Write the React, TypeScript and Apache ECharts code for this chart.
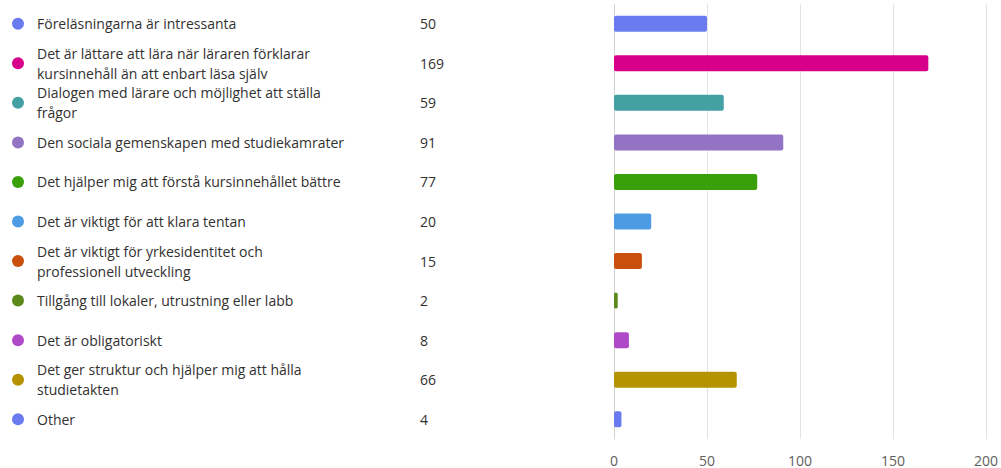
import React, { useEffect, useRef } from "react";
import * as echarts from "echarts";

const categories: string[] = [
  "Föreläsningarna är intressanta",
  "Det är lättare att lära när läraren förklarar\nkursinnehåll än att enbart läsa själv",
  "Dialogen med lärare och möjlighet att ställa\nfrågor",
  "Den sociala gemenskapen med studiekamrater",
  "Det hjälper mig att förstå kursinnehållet bättre",
  "Det är viktigt för att klara tentan",
  "Det är viktigt för yrkesidentitet och\nprofessionell utveckling",
  "Tillgång till lokaler, utrustning eller labb",
  "Det är obligatoriskt",
  "Det ger struktur och hjälper mig att hålla\nstudietakten",
  "Other",
];

const counts: number[] = [50, 169, 59, 91, 77, 20, 15, 2, 8, 66, 4];

const colors: string[] = [
  "#6a7bf0",
  "#d6008b",
  "#44a1a3",
  "#9374c4",
  "#3aa00a",
  "#4d9be3",
  "#c94f0f",
  "#5b8a1a",
  "#ae4ac7",
  "#b49200",
  "#6a7bf0",
];

const xTicks: number[] = [0, 50, 100, 150, 200];

const FONT = "'Open Sans', 'Noto Sans', sans-serif";

export default function App() {
  const ref = useRef<HTMLDivElement>(null);
  useEffect(() => {
    document.body.style.margin = "0";
    if (!ref.current) return;
    const chart = echarts.init(ref.current, undefined, { renderer: "svg" });
    const gridLeft = 614;
    const dotRich: Record<string, any> = {};
    colors.forEach((c, i) => {
      dotRich["d" + i] = {
        width: 12,
        height: 12,
        borderRadius: 6,
        backgroundColor: c,
      };
    });
    const baseY = {
      type: "category" as const,
      inverse: true,
      position: "left" as const,
      axisLine: { show: false },
      axisTick: { show: false },
      splitLine: { show: false },
    };
    chart.setOption({
      animation: false,
      textStyle: { fontFamily: FONT },
      grid: { left: gridLeft, right: 13, top: 4, bottom: 29, containLabel: false },
      xAxis: {
        type: "value",
        min: xTicks[0],
        max: xTicks[xTicks.length - 1],
        interval: xTicks[1] - xTicks[0],
        axisLine: { show: false },
        axisTick: { show: false },
        splitLine: { show: true, lineStyle: { color: "#e3e3e3", width: 1 } },
        axisLabel: { color: "#605e5c", fontSize: 14, margin: 14, fontFamily: FONT },
      },
      yAxis: [
        {
          ...baseY,
          data: categories,
          axisLine: { show: true, lineStyle: { color: "#d2d2d2", width: 1 } },
          axisLabel: { show: false },
        },
        {
          ...baseY,
          data: categories,
          axisLabel: {
            align: "left",
            margin: gridLeft - 12,
            formatter: (_v: string, i: number) => `{d${i}|}`,
            rich: dotRich,
          },
        },
        {
          ...baseY,
          data: categories,
          axisLabel: {
            align: "left",
            margin: gridLeft - 37,
            color: "#323130",
            fontSize: 14,
            lineHeight: 20,
            fontFamily: FONT,
          },
        },
        {
          ...baseY,
          data: counts.map(String),
          axisLabel: {
            align: "left",
            margin: gridLeft - 420,
            color: "#323130",
            fontSize: 14,
            fontFamily: FONT,
          },
        },
      ],
      series: [
        {
          type: "bar",
          yAxisIndex: 0,
          barWidth: 16,
          data: counts.map((v, i) => ({
            value: v,
            itemStyle: { color: colors[i], borderRadius: 2 },
          })),
        },
      ],
    });
    return () => chart.dispose();
  }, []);
  return <div ref={ref} style={{ width: 1001, height: 468 }} />;
}
